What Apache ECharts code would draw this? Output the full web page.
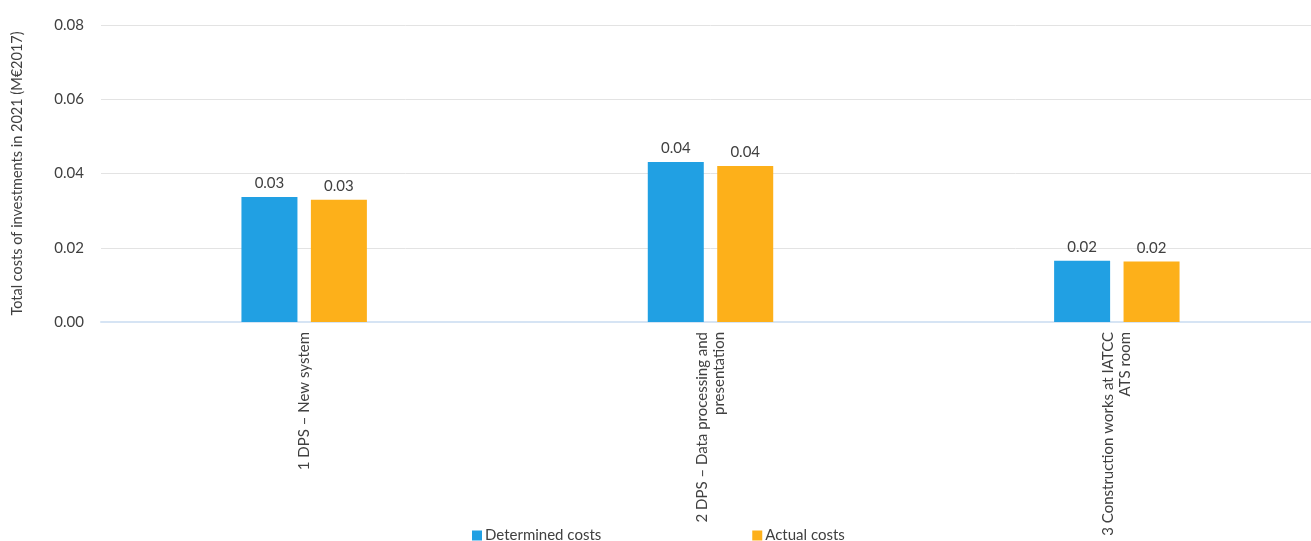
<!DOCTYPE html>
<html>
<head>
<meta charset="utf-8">
<script src="https://cdn.jsdelivr.net/npm/echarts@6/dist/echarts.min.js"></script>
<style>
  html, body { margin: 0; padding: 0; background: #fff; overflow: hidden; }
  #chart { width: 1320px; height: 541px; }
</style>
</head>
<body>
<div id="chart"></div>
<script>
const categories = [
  '1 DPS – New system',
  '2 DPS – Data processing and\npresentation',
  '3 Construction works at IATCC\nATS room'
]
const determinedCosts = [0.0337, 0.0431, 0.0165]
const actualCosts = [0.0329, 0.0420, 0.0163]
const yTicks = [0, 0.02, 0.04, 0.06, 0.08]

const textColor = '#404040'
const fontFamily = 'Lato, "Open Sans", sans-serif'

// chart area runs a little past the right edge of the window, as in the original
const chart = echarts.init(document.getElementById('chart'))

const barLabel = {
  show: true,
  position: 'top',
  distance: 6,
  color: textColor,
  fontSize: 15,
  fontFamily,
  formatter: p => p.value.toFixed(2)
}

chart.setOption({
  animation: false,
  textStyle: { fontFamily },
  grid: { left: 101, right: 0, top: 25, bottom: 219 },
  legend: {
    bottom: -7,
    left: 467,
    itemWidth: 10,
    itemHeight: 10,
    itemGap: 151,
    icon: 'rect',
    textStyle: { color: textColor, fontSize: 15, fontFamily, padding: [0, 0, 0, -2] },
    data: ['Determined costs', 'Actual costs']
  },
  xAxis: {
    type: 'category',
    data: categories,
    axisTick: { show: false },
    axisLine: { lineStyle: { color: '#d6e4f4', width: 2 } },
    axisLabel: {
      rotate: 90,
      interval: 0,
      color: textColor,
      fontSize: 15,
      fontFamily,
      lineHeight: 17,
      margin: 10
    }
  },
  yAxis: {
    type: 'value',
    min: yTicks[0],
    max: yTicks[yTicks.length - 1],
    interval: 0.02,
    name: 'Total costs of investments in 2021 (M€2017)',
    nameLocation: 'middle',
    nameGap: 76,
    nameTextStyle: { color: textColor, fontSize: 14.5, fontFamily },
    axisLine: { show: false },
    axisTick: { show: false },
    axisLabel: {
      color: textColor,
      fontSize: 15,
      fontFamily,
      margin: 17,
      formatter: v => v.toFixed(2)
    },
    splitLine: { lineStyle: { color: '#e3e3e3', width: 1 } }
  },
  series: [
    {
      name: 'Determined costs',
      type: 'bar',
      data: determinedCosts,
      barWidth: 56,
      barGap: '24%',
      itemStyle: { color: '#21a0e3' },
      label: barLabel
    },
    {
      name: 'Actual costs',
      type: 'bar',
      data: actualCosts,
      barWidth: 56,
      itemStyle: { color: '#fdb01a' },
      label: barLabel
    }
  ]
})
</script>
</body>
</html>
